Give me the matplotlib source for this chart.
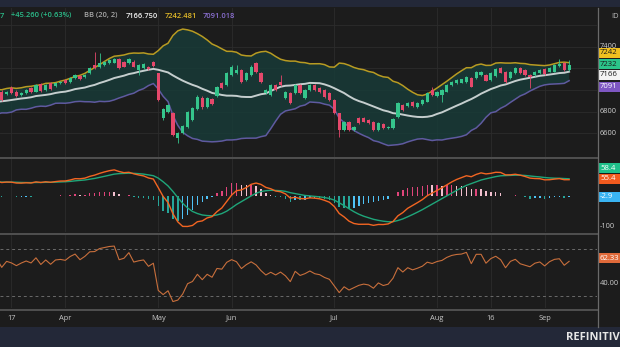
import numpy as np
import pandas as pd
import matplotlib
matplotlib.use("Agg")
import matplotlib.pyplot as plt
from matplotlib.patches import Rectangle
from matplotlib.lines import Line2D

W, H = 620, 347

# closes before the visible window, only used to warm up the indicators
pre_close = [6640, 6662, 6651, 6680, 6695, 6678, 6702, 6720, 6708, 6735,
             6750, 6732, 6760, 6775, 6758, 6785, 6800, 6788, 6812, 6830,
             6800, 6870, 6835, 6790, 6860, 6905, 6850, 6820, 6895, 6930,
             6870, 6845, 6925, 6965, 6900, 6880, 6960, 6990, 6930, 6985]

# visible daily candles
open_ = [6985, 6964, 7017, 6985, 6955, 6976, 7017, 6985, 7054, 7001,
         7063, 7038, 7065, 7093, 7078, 7109, 7131, 7118, 7156, 7232,
         7211, 7232, 7248, 7254, 7285, 7263, 7248, 7263, 7186, 7202,
         7217, 7263, 7156, 6739, 6800, 6791, 6554, 6600, 6661, 6723,
         6825, 6930, 6840, 6918, 6945, 7063, 7047, 7140, 7156, 7186,
         7093, 7140, 7248, 7156, 6970, 6955, 7047, 7078, 6924, 6970,
         6970, 7047, 6924, 7001, 7047, 7017, 7001, 6970, 6908, 6785,
         6631, 6708, 6631, 6739, 6739, 6723, 6708, 6631, 6686, 6645,
         6646, 6754, 6862, 6853, 6893, 6845, 6871, 6893, 7001, 6945,
         6955, 6985, 7047, 7063, 7070, 7078, 7109, 7109, 7140, 7140,
         7093, 7131, 7202, 7170, 7109, 7156, 7202, 7186, 7140, 7140,
         7156, 7193, 7170, 7170, 7225, 7248, 7186]
high = [7000, 6995, 7040, 6998, 6985, 7010, 7028, 7058, 7068, 7055,
        7072, 7072, 7080, 7102, 7118, 7150, 7142, 7150, 7212, 7356,
        7340, 7272, 7288, 7295, 7295, 7272, 7294, 7275, 7240, 7250,
        7226, 7272, 7162, 6835, 6870, 6800, 6612, 6675, 6808, 6840,
        6950, 6945, 6935, 6930, 7040, 7075, 7168, 7230, 7232, 7195,
        7165, 7228, 7263, 7165, 7010, 7058, 7058, 7140, 6995, 6980,
        7058, 7055, 7010, 7055, 7058, 7026, 7010, 6978, 6915, 6792,
        6716, 6716, 6670, 6748, 6746, 6732, 6716, 6700, 6695, 6670,
        6738, 6888, 6870, 6892, 6900, 6886, 6916, 6978, 7030, 6993,
        7008, 7055, 7085, 7100, 7106, 7131, 7117, 7178, 7178, 7148,
        7163, 7200, 7210, 7178, 7178, 7210, 7210, 7194, 7148, 7178,
        7194, 7200, 7210, 7240, 7290, 7263, 7279]
low = [6895, 6950, 6962, 6935, 6942, 6968, 6975, 6978, 6985, 6992,
       7002, 7030, 7055, 7055, 7070, 7100, 7092, 7110, 7148, 7195,
       7200, 7225, 7240, 7246, 7195, 7210, 7240, 7210, 7140, 7195,
       7186, 7216, 6900, 6725, 6790, 6575, 6510, 6590, 6652, 6715,
       6815, 6828, 6830, 6862, 6935, 7008, 7040, 7132, 7148, 7070,
       7085, 7132, 7160, 7070, 6960, 6945, 6992, 7038, 6915, 6868,
       6962, 6960, 6915, 6992, 6992, 6975, 6930, 6900, 6775, 6569,
       6620, 6620, 6622, 6684, 6700, 6684, 6622, 6622, 6638, 6636,
       6638, 6745, 6808, 6845, 6845, 6838, 6863, 6885, 6948, 6938,
       6893, 6978, 7040, 7055, 7063, 7070, 7025, 7100, 7132, 7080,
       7086, 7124, 7154, 7070, 7100, 7148, 7148, 7132, 7017, 7132,
       7148, 7143, 7163, 7163, 7218, 7178, 7178]
close = [6908, 6985, 6970, 6945, 6976, 7001, 6985, 7047, 6992, 7047,
         7010, 7063, 7070, 7063, 7109, 7140, 7100, 7140, 7202, 7205,
         7248, 7263, 7279, 7285, 7202, 7218, 7285, 7218, 7232, 7241,
         7195, 7225, 6908, 6822, 6860, 6584, 6600, 6668, 6800, 6831,
         6940, 6840, 6927, 6872, 7029, 7017, 7156, 7217, 7186, 7078,
         7156, 7217, 7170, 7078, 7001, 7047, 7001, 7047, 6985, 6878,
         7047, 6970, 7001, 7047, 7001, 6985, 6939, 6908, 6785, 6631,
         6708, 6631, 6661, 6692, 6708, 6692, 6631, 6692, 6646, 6661,
         6730, 6878, 6816, 6883, 6853, 6878, 6908, 6970, 6955, 6985,
         7001, 7047, 7078, 7093, 7099, 7124, 7032, 7170, 7170, 7087,
         7156, 7193, 7161, 7078, 7170, 7202, 7156, 7140, 7125, 7170,
         7186, 7150, 7202, 7232, 7240, 7186, 7232]

tick_pos = [2, 13, 32, 47, 68, 89, 100, 111]
tick_lab = ['17', 'Apr', 'May', 'Jun', 'Jul', 'Aug', '16', 'Sep']

price_ticks = [6600, 6800, 7400]
price_tags = ['7242', '7232', '7166', '7091']
macd_tags = ['58.4', '55.4', '-2.9']
rsi_tag = '62.33'

header = [(0, '7', '#2bbd8a'), (11, '+45.260 (+0.63%)', '#2bbd8a'),
          (84, 'BB (20, 2)', '#a8a8a8'), (126, '7166.750', '#f0f0f0'),
          (165, '7242.481', '#e0b828'), (203, '7091.018', '#8a6fd0')]

BG = '#1c1c1c'
UP, DOWN = '#35c58c', '#e5486b'
FONT = 'Open Sans'

# ---- indicators
s = pd.Series(pre_close + close, dtype=float)
mid = s.rolling(20).mean()
sd = s.rolling(20).std(ddof=0)
upper, lower = mid + 2 * sd, mid - 2 * sd
macd = s.ewm(span=12, adjust=False).mean() - s.ewm(span=26, adjust=False).mean()
signal = macd.ewm(span=9, adjust=False).mean()
hist = macd - signal
delta = s.diff()
gain = delta.clip(lower=0).ewm(alpha=1 / 14, adjust=False).mean()
loss = (-delta.clip(upper=0)).ewm(alpha=1 / 14, adjust=False).mean()
rsi = 100 - 100 / (1 + gain / loss)

n = len(close)
xf = np.arange(-len(pre_close), n)
x = np.arange(n)
o, hi, lo, c = map(np.array, (open_, high, low, close))


def box(x0, y0, x1, y1):
    return [x0 / W, 1 - y1 / H, (x1 - x0) / W, (y1 - y0) / H]


def fx(px):
    return px / W


def fy(py):
    return 1 - py / H


fig = plt.figure(figsize=(W / 100, H / 100), dpi=100, facecolor=BG)

ax1 = fig.add_axes(box(0, 8, 597, 157))
ax2 = fig.add_axes(box(0, 159, 597, 232))
ax3 = fig.add_axes(box(0, 235, 597, 308))

for ax in (ax1, ax2, ax3):
    ax.set_facecolor(BG)
    ax.set_xlim(-0.35, 121.7)
    for sp in ax.spines.values():
        sp.set_visible(False)
    ax.set_xticks([])
    ax.set_yticks([])
    for t in tick_pos:
        ax.axvline(t, color='#2c2c2c', lw=0.6, zorder=0)

# ---- price panel
ax1.set_ylim(6380, 7760)
for v in range(6600, 7800, 200):
    ax1.axhline(v, color='#2c2c2c', lw=0.6, zorder=0)
ax1.fill_between(xf, lower, upper, color='#173c39', alpha=0.8, lw=0, zorder=1)
ax1.plot(xf, upper, color='#b89b22', lw=1.1, zorder=2)
ax1.plot(xf, lower, color='#5f5aa0', lw=1.1, zorder=2)
ax1.plot(xf, mid, color='#c5cece', lw=1.4, zorder=2)
col = np.where(c >= o, UP, DOWN)
ax1.vlines(x, lo, hi, color=col, lw=0.6, zorder=3)
ax1.bar(x, np.maximum(np.abs(c - o), 4), bottom=np.minimum(o, c), width=0.66,
        color=col, lw=0, zorder=4)

# ---- MACD panel
ax2.set_ylim(-120, 126)
hv = hist.values
prev = np.concatenate([[0], hv[:-1]])
hcol = np.where(hv >= 0, np.where(hv >= prev, '#e0457b', '#f2c0cf'),
                np.where(hv < prev, '#26a69a', '#4fc3f7'))
ax2.bar(xf, hv, width=0.3, color=hcol, lw=0, zorder=1)
ax2.plot(xf, signal, color='#1fa67a', lw=1.0, zorder=2)
ax2.plot(xf, macd, color='#f26522', lw=1.0, zorder=3)

# ---- RSI panel
ax3.set_ylim(19.3, 82.2)
for v in (70, 30):
    ax3.axhline(v, color='#6a6a6a', lw=0.7, ls=(0, (3, 3)), zorder=1)
ax3.plot(xf, rsi, color='#c86f3c', lw=0.8, zorder=2)

# ---- frame pieces
fig.add_artist(Rectangle((0, fy(7)), 1, 7 / H, transform=fig.transFigure,
                         color='#232838', lw=0))
fig.add_artist(Rectangle((0, 0), 1, 20 / H, transform=fig.transFigure,
                         color='#232838', lw=0))
for py in (157.8, 233.5, 309.5):
    fig.add_artist(Line2D([0, fx(597)], [fy(py), fy(py)], color='#505050', lw=1.4))
fig.add_artist(Line2D([fx(597.5), fx(597.5)], [fy(8), fy(327)], color='#6a6a6a', lw=0.9))

fig.text(fx(566), fy(337), 'REFINITIV', color='#e6e6e6', fontsize=8,
         fontweight='bold', va='center', ha='left', family=FONT)

for px, txt, cl in header:
    fig.text(fx(px), fy(16), txt, color=cl, fontsize=5.4, va='center',
             ha='left', family=FONT, fontweight='semibold')
fig.text(fx(611), fy(16), 'ID', color='#bbbbbb', fontsize=5.4, va='center',
         ha='left', family=FONT)

for t, lab in zip(tick_pos, tick_lab):
    xp = ax3.transData.transform((t, 0))[0] / W
    fig.text(xp, fy(318), lab, color='#c8c8c8', fontsize=5.4, ha='center',
             va='center', family=FONT)

# right axis labels
for v in price_ticks:
    yp = ax1.transData.transform((0, v))[1] / H
    fig.text(fx(600), yp, str(v), color='#cfcfcf', fontsize=5.4, va='center',
             ha='left', family=FONT)
yp = ax2.transData.transform((0, -100))[1] / H
fig.text(fx(600), yp, '-100', color='#cfcfcf', fontsize=5.4, va='center',
         ha='left', family=FONT)
yp = ax3.transData.transform((0, 40))[1] / H
fig.text(fx(600), yp, '40.00', color='#cfcfcf', fontsize=5.4, va='center',
         ha='left', family=FONT)


def tag(py, txt, bg, fg):
    fig.add_artist(Rectangle((fx(598), fy(py + 5)), 22 / W, 10 / H,
                             transform=fig.transFigure, color=bg, lw=0))
    fig.text(fx(600), fy(py), txt, color=fg, fontsize=5.6, va='center',
             ha='left', family=FONT)


tag(53, price_tags[0], '#f0c020', '#1a1a1a')
tag(64, price_tags[1], '#2bc48a', '#1a1a1a')
tag(75, price_tags[2], '#f4f4f4', '#1a1a1a')
tag(87, price_tags[3], '#7e57c2', '#ffffff')
tag(168, macd_tags[0], '#1fbf8a', '#ffffff')
tag(179, macd_tags[1], '#f25a1e', '#ffffff')
tag(197, macd_tags[2], '#3ab4f2', '#ffffff')
tag(258, rsi_tag, '#e06a3a', '#ffffff')

fig.savefig('out.png', dpi=100, facecolor=BG)
